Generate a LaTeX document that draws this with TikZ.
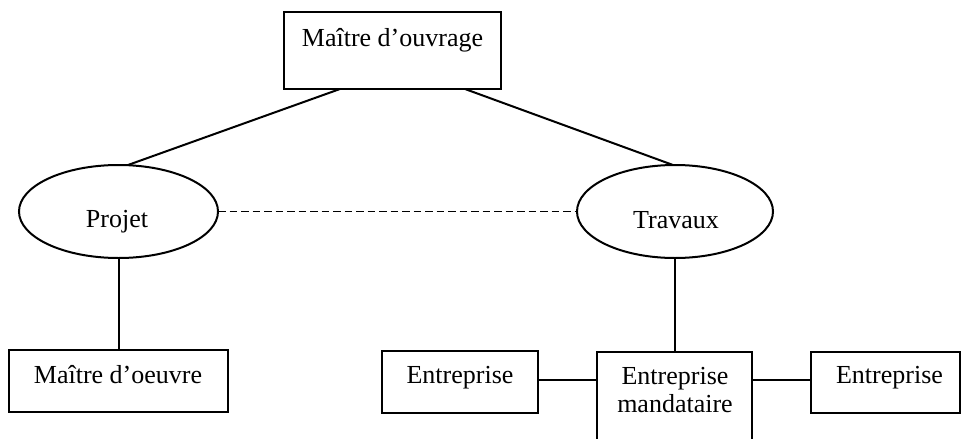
\documentclass[tikz,border=0pt]{standalone}
\usepackage{fontspec}
\setmainfont{Liberation Serif}
\usetikzlibrary{shapes.geometric}
\begin{document}
\begin{tikzpicture}[x=1pt,y=-1pt,
  box/.style={draw, rectangle, line width=2pt, inner sep=0pt, outer sep=0pt},
  oval/.style={draw, ellipse, line width=2pt, inner sep=0pt, outer sep=0pt},
  lbl/.style={anchor=base, inner sep=0pt, font=\fontsize{26}{28}\selectfont},
  link/.style={line width=2pt},
  dashlink/.style={line width=1.8pt, dash pattern=on 7.5pt off 4pt}]
  \useasboundingbox (0,0) rectangle (961,439);
  \clip (0,0) rectangle (961,439);

  % shapes
  \node[box, minimum width=217pt, minimum height=77pt] (mo) at (392.5,50.5) {};
  \node[oval, minimum width=199pt, minimum height=93pt] (projet) at (118.5,211.5) {};
  \node[oval, minimum width=196pt, minimum height=93pt] (travaux) at (675,211.5) {};
  \node[box, minimum width=219pt, minimum height=62pt] (moe) at (118.5,381) {};
  \node[box, minimum width=156pt, minimum height=62pt] (ent1) at (460,382) {};
  \node[box, minimum width=155pt, minimum height=128pt] (mand) at (674.5,416) {};
  \node[box, minimum width=149pt, minimum height=61pt] (ent2) at (885,382.5) {};

  % texts
  \node[lbl] (tmo) at (392.5,46) {Maître d’ouvrage};
  \node[lbl] (tprojet) at (117,227) {Projet};
  \node[lbl] (ttravaux) at (676,228) {Travaux};
  \node[lbl] (tmoe) at (118,383) {Maître d’oeuvre};
  \node[lbl] (tent1) at (460,383) {Entreprise};
  \node[lbl] (tmand1) at (675,384) {Entreprise};
  \node[lbl] (tmand2) at (675,412) {mandataire};
  \node[lbl] (tent2) at (889.5,383) {Entreprise};

  % connectors
  \draw[link] ([xshift=-52.5pt]mo.south) -- ([xshift=9.5pt]projet.north);
  \draw[link] ([xshift=72.5pt]mo.south) -- ([xshift=-2pt]travaux.north);
  \draw[dashlink] (projet.east) -- (travaux.west);
  \draw[link] (projet.south) -- (moe.north);
  \draw[link] (travaux.south) -- (travaux.south |- mand.north);
  \draw[link] ([yshift=2pt]ent1.east) -- ([yshift=2pt]ent1.east -| mand.west);
  \draw[link] ([yshift=2pt]ent1.east -| mand.east) -- ([yshift=2pt]ent1.east -| ent2.west);
\end{tikzpicture}
\end{document}
